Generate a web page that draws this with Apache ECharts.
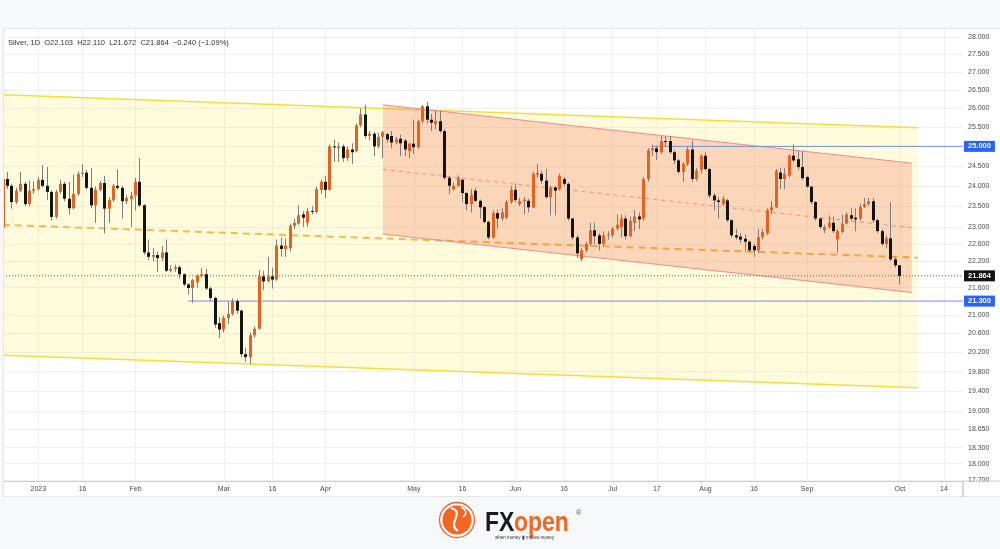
<!DOCTYPE html>
<html><head><meta charset="utf-8">
<script src="https://cdn.jsdelivr.net/npm/echarts@6.0.0/dist/echarts.min.js"></script>
<style>html,body{margin:0;padding:0;background:#fff}#c{width:1000px;height:549px}</style>
</head><body><div id="c"></div>
<script>
// ---- data (prices) ----
const firstDate = '2022-12-21';
const categoryCount = 218;
const opens = [
22.98,24.17,24.00,23.60,23.88,24.05,23.55,23.88,23.92,24.15,
24.00,23.85,23.24,23.85,24.05,23.68,23.45,23.80,24.30,24.33,
23.95,23.52,23.90,24.07,23.44,23.65,24.00,23.95,23.62,23.68,
23.76,24.10,23.52,22.40,22.30,22.34,22.27,22.40,21.98,22.02,
22.06,21.90,21.67,21.59,21.72,21.86,21.90,21.58,21.37,20.82,
20.68,20.93,21.02,21.30,21.09,20.16,20.10,20.56,20.70,21.85,
21.74,21.85,21.78,22.56,22.48,22.50,23.02,23.08,23.30,23.10,
23.38,23.36,23.90,24.10,23.90,25.00,24.95,25.00,24.70,24.92,
24.88,25.55,25.84,25.27,25.33,25.00,25.25,25.32,25.27,25.10,
25.20,25.15,24.88,25.07,24.98,25.66,26.06,25.70,25.58,25.66,
25.40,24.20,23.92,24.00,24.15,23.82,23.55,23.88,23.63,23.48,
23.12,22.75,23.33,23.20,23.22,23.60,23.90,23.55,23.62,23.63,
23.47,24.28,24.30,24.13,23.72,23.96,23.92,24.17,24.05,23.20,
22.75,22.25,22.45,22.60,22.92,22.80,22.60,22.80,22.80,22.96,
23.00,23.20,22.78,23.10,23.25,23.20,24.17,24.90,24.95,24.85,
25.14,25.14,24.85,24.64,24.35,24.55,24.92,24.17,24.40,24.76,
24.42,23.76,23.64,23.55,23.64,23.16,22.80,22.77,22.72,22.65,
22.55,22.45,22.76,22.85,23.40,23.47,24.33,24.17,24.25,24.76,
24.67,24.47,24.22,23.98,23.60,23.20,22.92,23.00,23.10,22.70,
22.88,23.08,23.28,23.22,23.20,23.48,23.55,23.62,23.16,22.90,
22.60,22.73,22.24,22.103];
const closes = [
24.17,24.00,23.60,23.88,24.05,23.55,23.88,23.92,24.15,24.00,
23.85,23.24,23.85,24.05,23.68,23.45,23.80,24.30,24.33,23.95,
23.52,23.90,24.07,23.44,23.65,24.00,23.95,23.62,23.70,23.76,
24.10,23.52,22.40,22.30,22.34,22.27,22.40,21.98,22.02,22.06,
21.90,21.67,21.59,21.77,21.86,21.90,21.58,21.37,20.79,20.68,
20.93,21.02,21.30,21.09,20.16,20.10,20.56,20.70,21.85,21.74,
21.85,21.78,22.56,22.48,22.56,23.03,23.10,23.28,23.22,23.38,
23.36,23.92,24.10,23.90,25.00,24.99,25.00,24.70,24.92,24.85,
25.55,25.84,25.27,25.33,25.00,25.25,25.37,25.18,25.10,25.18,
25.08,24.92,25.07,24.98,25.66,26.06,25.70,25.62,25.66,25.40,
24.20,24.00,24.00,24.20,23.82,23.55,23.78,23.63,23.47,23.12,
22.75,23.33,23.20,23.35,23.60,23.90,23.65,23.62,23.66,23.47,
24.30,24.32,24.13,23.72,23.96,23.88,24.25,24.05,23.20,22.75,
22.38,22.45,22.60,22.92,22.78,22.60,22.80,22.82,22.96,23.05,
23.20,22.78,23.15,23.25,23.18,24.17,24.90,24.95,24.85,25.14,
25.12,24.85,24.64,24.35,24.55,24.92,24.17,24.38,24.76,24.42,
23.76,23.64,23.60,23.68,23.16,22.80,22.75,22.70,22.65,22.45,
22.45,22.76,22.88,23.40,23.47,24.38,24.17,24.30,24.76,24.64,
24.47,24.19,23.98,23.60,23.20,23.00,23.00,23.10,22.90,22.90,
23.08,23.30,23.20,23.18,23.48,23.55,23.62,23.16,22.90,22.60,
22.73,22.24,22.104,21.864];
const lows = [
22.92,23.92,23.44,23.55,23.84,23.50,23.50,23.80,23.88,23.96,
23.65,23.15,23.20,23.80,23.62,23.30,23.42,23.75,24.22,23.90,
23.45,23.10,23.86,22.85,23.10,23.60,23.90,23.20,23.55,23.00,
23.40,23.48,22.35,22.22,22.20,21.95,22.20,21.95,21.94,21.95,
21.80,21.63,21.45,21.26,21.60,21.82,21.55,21.30,20.72,20.50,
20.62,20.80,20.98,21.02,20.10,20.00,19.96,20.50,20.68,21.55,
21.72,21.58,21.75,22.30,22.30,22.42,22.95,23.05,23.00,23.00,
23.30,23.32,23.80,23.70,23.88,24.60,24.60,24.60,24.62,24.55,
24.85,25.50,25.20,25.15,24.75,24.95,24.70,25.10,24.95,25.05,
24.75,24.75,24.70,24.80,24.95,25.60,25.60,25.40,25.45,25.35,
24.15,23.80,23.88,23.98,23.60,23.40,23.35,23.60,23.20,23.08,
22.70,22.72,22.96,23.15,23.18,23.55,23.60,23.50,23.30,23.35,
23.45,24.20,24.05,23.68,23.28,23.28,23.88,23.98,23.15,22.70,
22.27,22.20,22.40,22.55,22.60,22.45,22.55,22.70,22.75,22.92,
22.75,22.70,22.75,22.90,22.95,23.15,24.10,24.75,24.65,24.80,
25.00,24.80,24.55,24.30,24.10,24.50,24.10,24.12,24.30,24.38,
23.70,23.40,23.20,23.50,23.12,22.75,22.70,22.62,22.42,22.40,
22.30,22.40,22.70,22.80,23.30,23.45,23.92,23.92,24.20,24.60,
24.40,24.15,23.95,23.55,23.15,22.95,22.85,22.95,22.85,22.40,
22.85,23.05,23.15,22.90,23.15,23.45,23.50,23.10,22.85,22.55,
22.50,22.20,22.05,21.672];
const highs = [
24.22,24.35,24.05,23.95,24.35,24.10,24.13,24.10,24.22,24.52,
24.47,23.88,23.90,24.15,24.10,24.10,24.28,24.36,24.55,24.40,
24.45,23.98,24.12,24.25,23.72,24.05,24.40,24.00,23.78,23.85,
24.20,24.70,23.55,22.70,22.50,22.42,22.55,22.70,22.10,22.12,
22.10,21.92,21.70,21.80,21.90,22.04,22.02,21.62,21.40,20.95,
20.98,21.28,21.36,21.35,21.12,20.30,20.62,20.75,22.00,21.98,
22.30,22.05,22.70,22.75,22.72,23.08,23.20,23.52,23.38,23.45,
23.50,23.98,24.15,24.25,25.05,25.18,25.10,25.05,25.00,25.08,
25.60,26.00,26.10,25.40,25.38,25.35,25.40,25.35,25.40,25.25,
25.30,25.20,25.10,25.70,25.70,26.10,26.18,25.85,25.95,25.95,
25.45,24.25,24.08,24.26,24.18,23.85,23.92,23.95,23.66,23.50,
23.15,23.40,23.42,23.45,23.65,24.00,24.05,23.70,23.72,23.68,
24.35,24.55,24.38,24.42,24.00,24.00,24.30,24.22,24.08,23.22,
22.80,22.50,22.65,23.10,23.10,22.85,22.90,22.90,23.00,23.30,
23.30,23.28,23.25,23.40,23.35,24.22,24.95,25.05,25.02,25.27,
25.27,25.27,24.90,24.68,24.60,24.98,25.15,24.45,24.80,24.85,
24.45,23.82,23.72,23.75,23.68,23.18,22.95,22.85,22.82,22.68,
22.60,22.95,22.95,23.45,23.62,24.42,24.45,24.45,24.80,25.05,
24.88,24.88,24.25,24.00,23.62,23.22,23.05,23.28,23.25,22.95,
23.30,23.35,23.45,23.45,23.55,23.70,23.70,23.70,23.20,22.95,
22.80,23.60,22.30,22.110];

const xTickDates = ['2023-01-02','2023-01-16','2023-02-01','2023-03-01','2023-03-16','2023-04-03','2023-05-01','2023-05-16','2023-06-01','2023-06-16','2023-07-03','2023-07-17','2023-08-01','2023-08-16','2023-09-01','2023-10-02','2023-10-16'];
const xTickLabels = ['2023','16','Feb','Mar','16','Apr','May','16','Jun','16','Jul','17','Aug','16','Sep','Oct','14'];
const yTickValues = [28,27.5,27,26.5,26,25.5,25,24.5,24,23.5,23,22.6,22.2,21.6,21,20.6,20.2,19.8,19.4,19,18.65,18.3,18,17.7];

// drawn channels: [startBar, endBar] and prices at start / end
const yellowSpan = [0, 207.1];
const yellowTop = [26.37, 25.49];
const yellowMid = [23.05, 22.28];
const yellowBottom = [20.14, 19.47];
const salmonSpan = [86.0, 205.7];
const salmonTop = [26.10, 24.57];
const salmonMid = [24.41, 22.98];
const salmonBottom = [22.83, 21.49];
// horizontal levels
const levelPrices = [25.000, 21.300];
const levelStarts = [147.0, 41.9];
const lastPrice = 21.864;
const headerText = 'Silver, 1D  O22.103  H22.110  L21.672  C21.864  \u22120.240 (\u22121.09%)';

// ---- build ----
const dates = [];
(function () {
  const d = new Date(firstDate + 'T00:00:00Z');
  while (dates.length < categoryCount) {
    const w = d.getUTCDay();
    if (w !== 0 && w !== 6) dates.push(d.toISOString().slice(0, 10));
    d.setUTCDate(d.getUTCDate() + 1);
  }
})();
const xTickIdx = xTickDates.map(s => dates.indexOf(s));
const labelByIdx = {};
xTickIdx.forEach((ix, k) => { labelByIdx[ix] = xTickLabels[k]; });
const L = Math.log;
const X_MIN = 0, X_MAX = 217.3;
const Y_MIN = L(17.68), Y_MAX = L(28.26);
const candleData = opens.map((o, i) => [i, L(o), L(closes[i]), L(lows[i]), L(highs[i])]);
const FONT = 'Liberation Sans, Arial, sans-serif';
const LEVEL_BLUE = '#6f92e6';

function channelSeries(span, top, mid, bot, fill, lineColor, lineW, midColor, midW, midDash) {
  return {
    type: 'custom', silent: true, z: 1, clip: true,
    xAxisIndex: 0, yAxisIndex: 0,
    encode: { x: [0, 1], y: [2, 3] },
    data: [[span[0], span[1], L(top[0]), L(top[1]), L(mid[0]), L(mid[1]), L(bot[0]), L(bot[1])]],
    renderItem: function (params, api) {
      const s = api.value(0), e = api.value(1);
      const t0 = api.coord([s, api.value(2)]), t1 = api.coord([e, api.value(3)]);
      const m0 = api.coord([s, api.value(4)]), m1 = api.coord([e, api.value(5)]);
      const b0 = api.coord([s, api.value(6)]), b1 = api.coord([e, api.value(7)]);
      return {
        type: 'group', children: [
          { type: 'polygon', shape: { points: [t0, t1, b1, b0] }, style: { fill: fill } },
          { type: 'line', shape: { x1: t0[0], y1: t0[1], x2: t1[0], y2: t1[1] }, style: { stroke: lineColor, lineWidth: lineW } },
          { type: 'line', shape: { x1: b0[0], y1: b0[1], x2: b1[0], y2: b1[1] }, style: { stroke: lineColor, lineWidth: lineW } },
          { type: 'line', shape: { x1: m0[0], y1: m0[1], x2: m1[0], y2: m1[1] }, style: { stroke: midColor, lineWidth: midW, lineDash: midDash } }
        ]
      };
    }
  };
}

function levelSeries(startX, price, color, dash, boxColor) {
  return {
    type: 'line', xAxisIndex: 0, yAxisIndex: 0, z: 3, silent: true, symbol: 'none', clip: true,
    data: [[startX, L(price)], [X_MAX, L(price)]],
    lineStyle: { color: color, width: 1, type: dash },
    itemStyle: { color: color },
    endLabel: { show: true, distance: 1, formatter: price.toFixed(3), color: '#fff', backgroundColor: boxColor,
      padding: [2, 4, 1, 4], fontSize: 7.5, fontFamily: FONT, fontWeight: 'bold' }
  };
}

const chart = echarts.init(document.getElementById('c'), null, { renderer: 'canvas' });
chart.setOption({
  animation: false,
  backgroundColor: '#ffffff',
  textStyle: { fontFamily: FONT },
  grid: { left: 3, right: 37, top: 28, bottom: 68, show: false },
  xAxis: [{
    type: 'value', min: X_MIN, max: X_MAX,
    axisLine: { show: true, lineStyle: { color: '#c9ccd3', width: 1 } },
    axisTick: { show: false, customValues: xTickIdx },
    axisLabel: { customValues: xTickIdx, formatter: v => labelByIdx[Math.round(v)] || '', color: '#4a4a4a', fontSize: 7, margin: 5, fontFamily: FONT },
    splitLine: { show: true, lineStyle: { color: '#eef0f3', width: 1 } }
  }],
  yAxis: [{
    type: 'value', position: 'right', min: Y_MIN, max: Y_MAX, scale: true,
    axisLine: { show: true, lineStyle: { color: '#c9ccd3', width: 1.5 } },
    axisTick: { show: false, customValues: yTickValues.map(L) },
    axisLabel: { customValues: yTickValues.map(L), formatter: v => Math.exp(v).toFixed(3), color: '#4a4a4a', fontSize: 7, margin: 5, fontFamily: FONT },
    splitLine: { show: true, lineStyle: { color: '#eef0f3', width: 1 } }
  }],
  series: [
    channelSeries(yellowSpan, yellowTop, yellowMid, yellowBottom, 'rgba(255,235,59,0.18)', '#f5de3a', 1.5, '#f4bb45', 2, [7, 5]),
    channelSeries(salmonSpan, salmonTop, salmonMid, salmonBottom, 'rgba(239,90,68,0.23)', '#ee8c8c', 1, '#ef8f86', 1, [4, 4]),
    levelSeries(levelStarts[0], levelPrices[0], LEVEL_BLUE, 'solid', '#2962ff'),
    levelSeries(levelStarts[1], levelPrices[1], LEVEL_BLUE, 'solid', '#2962ff'),
    levelSeries(X_MIN, lastPrice, '#666666', [1, 2], '#131313'),
    {
      type: 'custom', z: 4, clip: true, xAxisIndex: 0, yAxisIndex: 0,
      encode: { x: 0, y: [1, 2, 3, 4] },
      data: candleData,
      renderItem: function (params, api) {
        const x = api.value(0);
        const o = api.value(1), c = api.value(2), lo = api.value(3), hi = api.value(4);
        const pO = api.coord([x, o]), pC = api.coord([x, c]), pL = api.coord([x, lo]), pH = api.coord([x, hi]);
        const left = Math.round(pO[0] - 1.5);
        const top = Math.min(pO[1], pC[1]), bot = Math.max(pO[1], pC[1]);
        const up = c >= o;
        return {
          type: 'group', children: [
            { type: 'line', shape: { x1: left + 1.5, y1: pH[1], x2: left + 1.5, y2: pL[1] }, style: { stroke: '#7d7d7d', lineWidth: 1 } },
            { type: 'rect', shape: { x: left, y: top, width: 3, height: Math.max(bot - top, 1) }, style: { fill: up ? '#e8621f' : '#141414' } }
          ]
        };
      }
    }
  ],
  graphic: [
    { type: 'rect', shape: { x: 0, y: 0, width: 1000, height: 28 }, style: { fill: '#f7f8fa' }, z: 50 },
    { type: 'rect', shape: { x: 0, y: 0, width: 3, height: 549 }, style: { fill: '#f7f8fa' }, z: 50 },
    { type: 'rect', shape: { x: 0, y: 497, width: 1000, height: 52 }, style: { fill: '#f7f8fa' }, z: 50 },
    { type: 'line', shape: { x1: 3, y1: 28.5, x2: 1000, y2: 28.5 }, style: { stroke: '#e3e5ea', lineWidth: 1 }, z: 50 },
    { type: 'line', shape: { x1: 3.5, y1: 28, x2: 3.5, y2: 497 }, style: { stroke: '#e3e5ea', lineWidth: 1 }, z: 50 },
    { type: 'line', shape: { x1: 3, y1: 496.5, x2: 1000, y2: 496.5 }, style: { stroke: '#e3e5ea', lineWidth: 1 }, z: 50 },
    { type: 'line', shape: { x1: 963, y1: 481, x2: 1000, y2: 481 }, style: { stroke: '#c9ccd3', lineWidth: 1 }, z: 50 },
    { type: 'line', shape: { x1: 963, y1: 481, x2: 963, y2: 497 }, style: { stroke: '#c9ccd3', lineWidth: 1.5 }, z: 50 },
    { type: 'text', x: 8, y: 43, style: { text: headerText, fill: '#333', fontSize: 7.5, fontFamily: FONT, verticalAlign: 'middle' }, z: 50 },
    // logo
    { type: 'circle', shape: { cx: 457, cy: 520, r: 17.5 }, style: { fill: 'none', stroke: '#f26522', lineWidth: 1.3 }, z: 50 },
    { type: 'circle', shape: { cx: 457, cy: 520, r: 14.5 }, style: { fill: '#f26522' }, z: 50 },
    { type: 'bezierCurve', shape: { x1: 451, y1: 508, cpx1: 466, cpy1: 512, cpx2: 446, cpy2: 524, x2: 458, y2: 531 }, style: { fill: 'none', stroke: '#fff', lineWidth: 2.2 }, z: 51 },
    { type: 'bezierCurve', shape: { x1: 461, y1: 507, cpx1: 467, cpy1: 510, cpx2: 467, cpy2: 514, x2: 463, y2: 517 }, style: { fill: 'none', stroke: '#fff', lineWidth: 1.5 }, z: 51 },
    { type: 'text', x: 485, y: 524, scaleX: 0.85, style: { text: 'FX', fill: '#1b1b1b', fontSize: 27, fontWeight: 'bold', fontFamily: FONT, verticalAlign: 'middle' }, z: 50 },
    { type: 'text', x: 514, y: 524, scaleX: 0.85, style: { text: 'open', fill: '#f26522', fontSize: 27, fontWeight: 'bold', fontFamily: FONT, verticalAlign: 'middle' }, z: 50 },
    { type: 'text', x: 576, y: 513, style: { text: '\u00ae', fill: '#555', fontSize: 7, fontFamily: FONT, verticalAlign: 'middle' }, z: 50 },
    { type: 'text', x: 495, y: 538, style: { text: 'when money \u25ae makes money', fill: '#333', fontSize: 4.5, fontFamily: FONT, verticalAlign: 'middle' }, z: 50 }
  ]
});
</script>
</body></html>
